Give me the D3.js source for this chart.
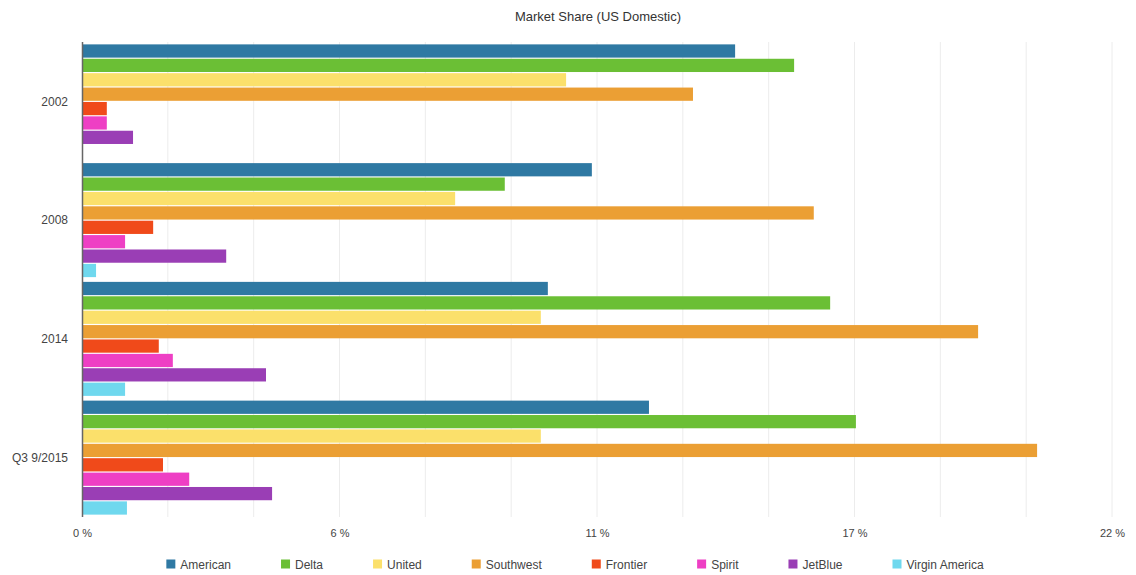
<!DOCTYPE html>
<html>
<head>
<meta charset="utf-8">
<script src="https://cdn.jsdelivr.net/npm/d3@7"></script>
<style>
  body { margin: 0; background: #fff; }
  svg { display: block; font-family: "Liberation Sans", Arial, sans-serif; }
</style>
</head>
<body>
<div id="chart"></div>
<script>
"use strict";

// periods (y groups)
const periods = ["2002", "2008", "2014", "Q3 9/2015"];

// airlines (series)
const airlines = ["American", "Delta", "United", "Southwest", "Frontier", "Spirit", "JetBlue", "Virgin America"];

// market share, % per period
const american = [13.95, 10.89, 9.95, 12.11];
const delta = [15.21, 9.03, 15.98, 16.53];
const united = [10.34, 7.97, 9.80, 9.80];
const southwest = [13.05, 15.63, 19.14, 20.40];
const frontier = [0.53, 1.52, 1.64, 1.73];
const spirit = [0.53, 0.92, 1.94, 2.29];
const jetblue = [1.09, 3.08, 3.93, 4.06];
const virgin = [0, 0.30, 0.92, 0.96];

const tickValues = [0, 5.5, 11, 16.5, 22];

const seriesValues = [american, delta, united, southwest, frontier, spirit, jetblue, virgin];
const colors = ["#2f79a3", "#6bbf35", "#fbe06b", "#eb9f34", "#f04a1a", "#ee3fc4", "#9a3eb5", "#6fd8ee"];

const width = 1136, height = 575;
const margin = { top: 42, right: 24, bottom: 58, left: 82 };

const svg = d3.select("#chart").append("svg")
    .attr("width", width)
    .attr("height", height);

// title
svg.append("text")
    .attr("x", 598)
    .attr("y", 21)
    .attr("text-anchor", "middle")
    .attr("font-size", 13)
    .attr("fill", "#333")
    .text("Market Share (US Domestic)");

const x = d3.scaleLinear()
    .domain([0, 22])
    .range([margin.left, 1112]);

const y0 = d3.scaleBand()
    .domain(periods)
    .range([margin.top, height - margin.bottom])
    .paddingInner(0.04)
    .paddingOuter(0.02);

const y1 = d3.scaleBand()
    .domain(airlines)
    .range([0, y0.bandwidth()])
    .paddingInner(0.08);

const color = d3.scaleOrdinal().domain(airlines).range(colors);

// light vertical grid lines
svg.append("g")
    .selectAll("line")
    .data(d3.range(1, 13).map(i => i * 22 / 12))
    .join("line")
    .attr("x1", d => x(d))
    .attr("x2", d => x(d))
    .attr("y1", margin.top)
    .attr("y2", height - margin.bottom)
    .attr("stroke", "#ececec")
    .attr("stroke-width", 1);

// bars
const rows = [];
periods.forEach((p, i) => {
    airlines.forEach((a, j) => {
        rows.push({ period: p, airline: a, value: seriesValues[j][i] });
    });
});

svg.append("g")
    .selectAll("rect")
    .data(rows.filter(d => d.value > 0))
    .join("rect")
    .attr("x", x(0))
    .attr("y", d => y0(d.period) + y1(d.airline))
    .attr("width", d => x(d.value) - x(0))
    .attr("height", y1.bandwidth())
    .attr("fill", d => color(d.airline));

// y axis line and labels
svg.append("line")
    .attr("x1", x(0) + 0.5)
    .attr("x2", x(0) + 0.5)
    .attr("y1", margin.top)
    .attr("y2", height - margin.bottom)
    .attr("stroke", "#666")
    .attr("stroke-width", 1.5);

svg.append("g")
    .selectAll("text")
    .data(periods)
    .join("text")
    .attr("x", 68)
    .attr("y", d => y0(d) + y0.bandwidth() / 2)
    .attr("dy", "0.35em")
    .attr("text-anchor", "end")
    .attr("font-size", 12)
    .attr("fill", "#444")
    .text(d => d);

// x axis
const xAxis = svg.append("g")
    .attr("transform", `translate(0,${height - margin.bottom + 4})`)
    .call(d3.axisBottom(x)
        .tickValues(tickValues)
        .tickSize(0)
        .tickPadding(8)
        .tickFormat(d => Math.round(d) + " %"));
xAxis.select(".domain").remove();
xAxis.selectAll("text")
    .attr("font-size", 11)
    .attr("font-family", "Liberation Sans, Arial, sans-serif")
    .attr("fill", "#444");

// legend, centered, constant gap after every item
const legendY = 565, gap = 50, box = 9;
const legend = svg.append("g");
const items = legend.selectAll("g")
    .data(airlines)
    .join("g");
items.append("rect")
    .attr("width", box)
    .attr("height", box)
    .attr("y", -box / 2 - 1)
    .attr("fill", d => color(d));
items.append("text")
    .attr("x", box + 5)
    .attr("dy", "0.32em")
    .attr("font-size", 12)
    .attr("fill", "#444")
    .text(d => d);

let offset = 0;
const offsets = [];
items.each(function () {
    offsets.push(offset);
    const w = d3.select(this).select("text").node().getComputedTextLength();
    offset += box + 5 + w + gap;
});
const start = 600 - offset / 2;
items.attr("transform", (d, i) => `translate(${start + offsets[i]},${legendY})`);
</script>
</body>
</html>
